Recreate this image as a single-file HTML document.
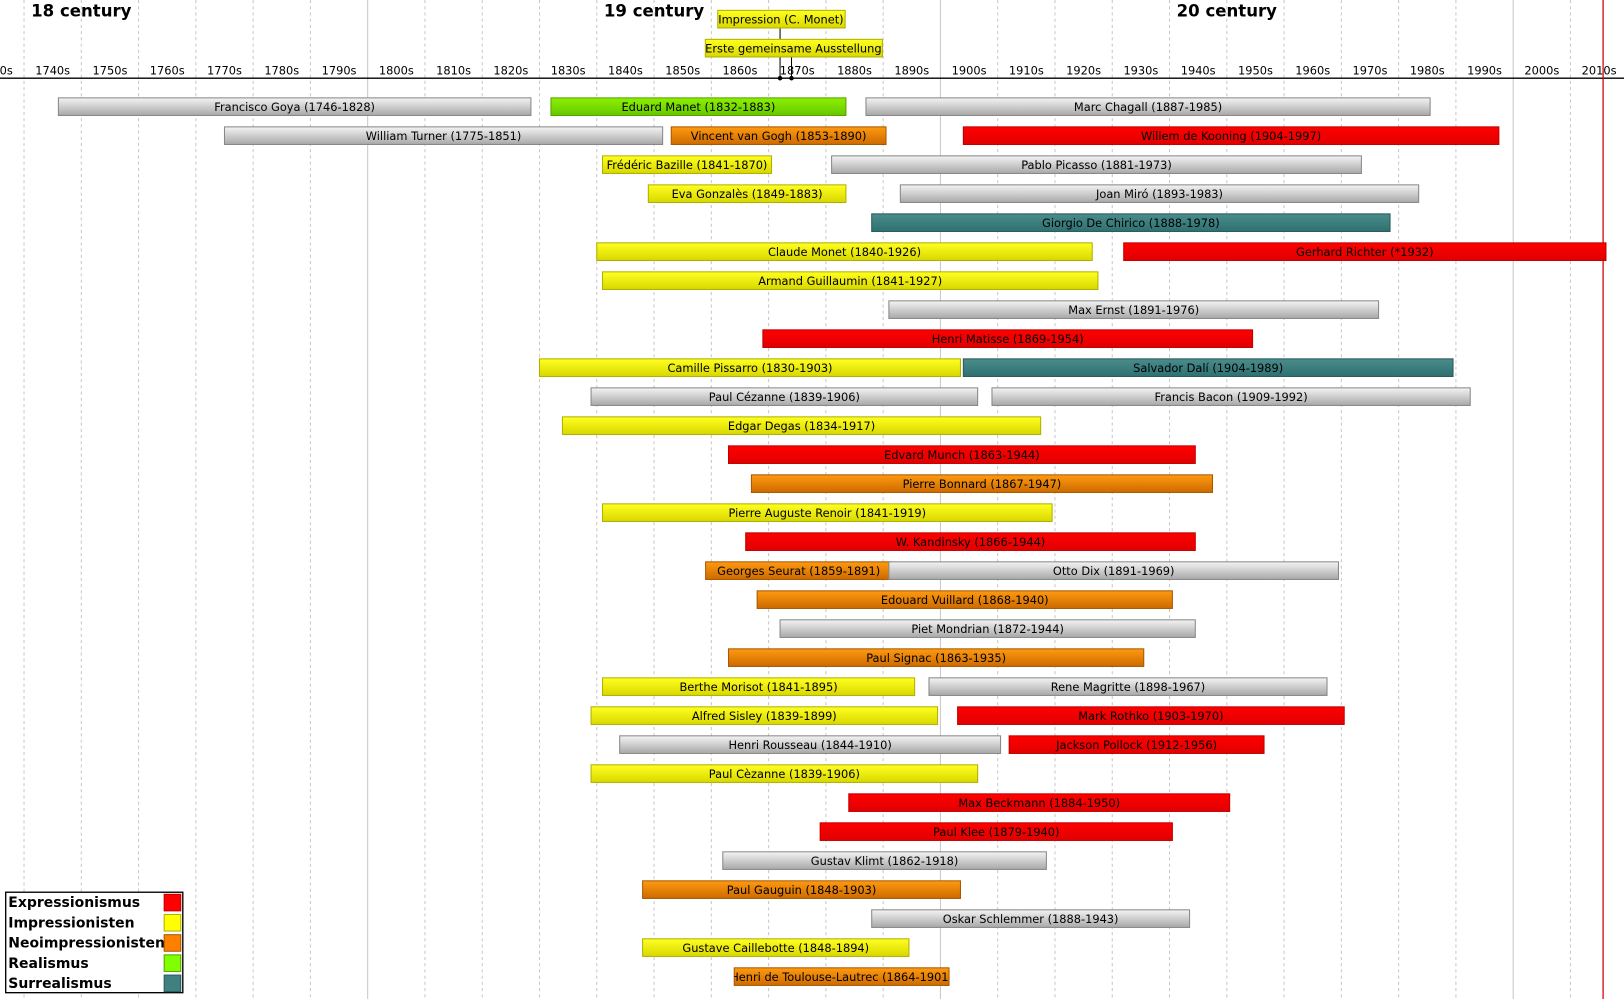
<!DOCTYPE html>
<html><head><meta charset="utf-8"><style>
html,body{margin:0;padding:0;background:#fff;width:1624px;height:999px;overflow:hidden}
svg{display:block}
text{font-family:"DejaVu Sans","Liberation Sans",sans-serif}
</style></head><body>
<svg id="chart" width="1624" height="999" viewBox="0 0 1568 964.6" preserveAspectRatio="none" xmlns="http://www.w3.org/2000/svg">
<defs>
<linearGradient id="g-gray" x1="0" y1="0" x2="0" y2="1"><stop offset="0" stop-color="#f4f4f4"/><stop offset="1" stop-color="#a8a8a8"/></linearGradient>
<linearGradient id="g-yellow" x1="0" y1="0" x2="0" y2="1"><stop offset="0" stop-color="#ffff20"/><stop offset="1" stop-color="#d8d800"/></linearGradient>
<linearGradient id="g-orange" x1="0" y1="0" x2="0" y2="1"><stop offset="0" stop-color="#ff9a10"/><stop offset="1" stop-color="#cc6a00"/></linearGradient>
<linearGradient id="g-red" x1="0" y1="0" x2="0" y2="1"><stop offset="0" stop-color="#ff0000"/><stop offset="1" stop-color="#e00000"/></linearGradient>
<linearGradient id="g-green" x1="0" y1="0" x2="0" y2="1"><stop offset="0" stop-color="#8cf000"/><stop offset="1" stop-color="#66c800"/></linearGradient>
<linearGradient id="g-teal" x1="0" y1="0" x2="0" y2="1"><stop offset="0" stop-color="#4a8c8c"/><stop offset="1" stop-color="#2f7070"/></linearGradient>
</defs>
<g id="grid"></g><g id="axis"></g><g id="bars"></g><g id="legend"></g>
</svg>
<script>
const decades=[1730,1740,1750,1760,1770,1780,1790,1800,1810,1820,1830,1840,1850,1860,1870,1880,1890,1900,1910,1920,1930,1940,1950,1960,1970,1980,1990,2000,2010];
const centuries=[["18 century",1750],["19 century",1850],["20 century",1950],["21 century",2050]];
const names=["Francisco Goya (1746-1828)","Eduard Manet (1832-1883)","Marc Chagall (1887-1985)","William Turner (1775-1851)","Vincent van Gogh (1853-1890)","Willem de Kooning (1904-1997)","Frédéric Bazille (1841-1870)","Pablo Picasso (1881-1973)","Eva Gonzalès (1849-1883)","Joan Miró (1893-1983)","Giorgio De Chirico (1888-1978)","Claude Monet (1840-1926)","Gerhard Richter (*1932)","Armand Guillaumin (1841-1927)","Max Ernst (1891-1976)","Henri Matisse (1869-1954)","Camille Pissarro (1830-1903)","Salvador Dalí (1904-1989)","Paul Cézanne (1839-1906)","Francis Bacon (1909-1992)","Edgar Degas (1834-1917)","Edvard Munch (1863-1944)","Pierre Bonnard (1867-1947)","Pierre Auguste Renoir (1841-1919)","W. Kandinsky (1866-1944)","Georges Seurat (1859-1891)","Otto Dix (1891-1969)","Edouard Vuillard (1868-1940)","Piet Mondrian (1872-1944)","Paul Signac (1863-1935)","Berthe Morisot (1841-1895)","Rene Magritte (1898-1967)","Alfred Sisley (1839-1899)","Mark Rothko (1903-1970)","Henri Rousseau (1844-1910)","Jackson Pollock (1912-1956)","Paul Cèzanne (1839-1906)","Max Beckmann (1884-1950)","Paul Klee (1879-1940)","Gustav Klimt (1862-1918)","Paul Gauguin (1848-1903)","Oskar Schlemmer (1888-1943)","Gustave Caillebotte (1848-1894)","Henri de Toulouse-Lautrec (1864-1901)"];
const starts=[1746,1832,1887,1775,1853,1904,1841,1881,1849,1893,1888,1840,1932,1841,1891,1869,1830,1904,1839,1909,1834,1863,1867,1841,1866,1859,1891,1868,1872,1863,1841,1898,1839,1903,1844,1912,1839,1884,1879,1862,1848,1888,1848,1864];
const ends=[1828,1883,1985,1851,1890,1997,1870,1973,1883,1983,1978,1926,2015.7,1927,1976,1954,1903,1989,1906,1992,1917,1944,1947,1919,1944,1891,1969,1940,1944,1935,1895,1967,1899,1970,1910,1956,1906,1950,1940,1918,1903,1943,1894,1901];
const styles=["gray","green","gray","gray","orange","red","yellow","gray","yellow","gray","teal","yellow","red","yellow","gray","red","yellow","teal","gray","gray","yellow","red","orange","yellow","red","orange","gray","orange","gray","orange","yellow","gray","yellow","red","gray","red","yellow","red","red","gray","orange","gray","yellow","orange"];
const rows=[0,0,0,1,1,1,2,2,3,3,4,5,5,6,7,8,9,9,10,10,11,12,13,14,15,16,16,17,18,19,20,20,21,21,22,22,23,24,25,26,27,28,29,30];
const legendLabels=["Expressionismus","Impressionisten","Neoimpressionisten","Realismus","Surrealismus"];
const legendStyles=["red","yellow","orange","green","teal"];
const events=[["Impression (C. Monet)",1872,0],["Erste gemeinsame Ausstellung",1874,1]];

const NS="http://www.w3.org/2000/svg";
const X=y=>355+(y-1800)*5.53;
const Y=r=>103+28*r;
const fills={gray:"url(#g-gray)",yellow:"url(#g-yellow)",orange:"url(#g-orange)",red:"url(#g-red)",green:"url(#g-green)",teal:"url(#g-teal)"};
const strokes={gray:"#888",yellow:"#b0b000",orange:"#a85800",red:"#c00000",green:"#5aa000",teal:"#2a5a5a"};
const solid={gray:"#ccc",yellow:"#ffff00",orange:"#ff8000",red:"#ff0000",green:"#80ff00",teal:"#408080"};
function mk(tag,attrs,parent){const e=document.createElementNS(NS,tag);for(const k in attrs)e.setAttribute(k,attrs[k]);parent.appendChild(e);return e;}
const grid=document.getElementById('grid'),axis=document.getElementById('axis'),bars=document.getElementById('bars'),legend=document.getElementById('legend');

decades.forEach(d=>{
  const x=X(d);const cent=d%100===0;
  const l=mk('line',{x1:x,x2:x,y1:0,y2:965,stroke:cent?"#c8c8c8":"#c8c8c8","stroke-width":1,"stroke-dasharray":cent?"":"3,3"},grid);
  
  
  const t=mk('text',{x:X(d+5),y:72,"font-size":11,"text-anchor":"middle",fill:"#000"},axis);
  t.textContent=d+"s";
  
  
});
centuries.forEach(c=>{
  const t=mk('text',{x:X(c[1]),y:16,"font-size":16,"font-weight":"bold","text-anchor":"middle",fill:"#000"},axis);
  t.textContent=c[0];
  
  
});
const al=mk('line',{x1:0,x2:1568,y1:75.5,y2:75.5,stroke:"#000","stroke-width":1.3},axis);


const now=mk('line',{x1:X(2015.7),x2:X(2015.7),y1:0,y2:965,stroke:"#d00000","stroke-width":1.2},axis);



events.forEach(ev=>{
  const w=ev[0].length*6.1+12;const cx=X(ev[1]);const yy=ev[2]===0?10:38;
  const bx=ev[2]===0?693:681;
  const g=mk('g',{},axis);
  
  
  mk('line',{x1:cx,x2:cx,y1:yy+17,y2:75,stroke:"#000","stroke-width":1},g);
  mk('circle',{cx:cx,cy:75.5,r:2.2,fill:"#000"},g);
  mk('rect',{x:bx,y:yy,width:ev[2]===0?123:171,height:17,fill:"url(#g-yellow)",stroke:"#b0b000"},g);
  const t=mk('text',{x:bx+(ev[2]===0?61:85),y:yy+12.5,"font-size":11,"text-anchor":"middle",fill:"#000"},g);
  t.textContent=ev[0];
});

names.forEach((n,i)=>{
  const x1=X(starts[i]),x2=X(ends[i]+0.5),y=Y(rows[i])-8.5;
  const g=mk('g',{},bars);
  
  
  const cid='clip'+i;
  const cp=mk('clipPath',{id:cid},g);mk('rect',{x:x1,y:y,width:x2-x1,height:17},cp);
  mk('rect',{x:x1,y:y,width:x2-x1,height:17,fill:fills[styles[i]],stroke:strokes[styles[i]],"stroke-width":1},g);
  const t=mk('text',{x:(x1+x2)/2,y:y+12.5,"font-size":11,"text-anchor":"middle",fill:"#000","clip-path":"url(#"+cid+")"},g);
  t.textContent=n;
});

const lb=mk('rect',{x:5.5,y:861.5,width:171,height:97,fill:"#fff",stroke:"#000","stroke-width":1.3},legend);


legendLabels.forEach((l,i)=>{
  const g=mk('g',{},legend);
  
  
  const t=mk('text',{x:8,y:876+19.5*i,"font-size":13.5,"font-weight":"bold",fill:"#000"},g);
  t.textContent=l;
  mk('rect',{x:158.5,y:863.5+19.5*i,width:16,height:16,fill:solid[legendStyles[i]],stroke:strokes[legendStyles[i]]},g);
});
</script>
</body></html>
